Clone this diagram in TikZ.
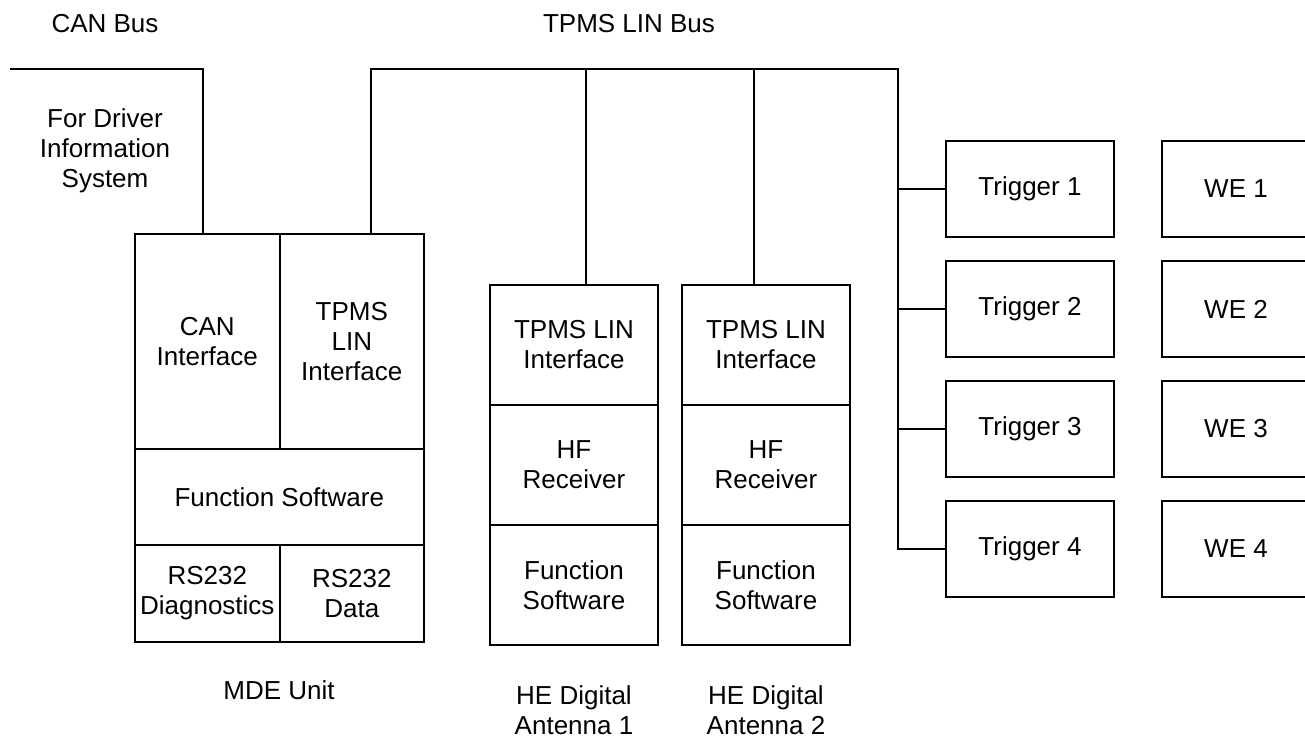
\documentclass[tikz,border=0pt]{standalone}
\usepackage{fontspec}
\setmainfont{Liberation Sans}
\usetikzlibrary{positioning}
\begin{document}
\begin{tikzpicture}[
		x=1pt, y=-1pt,
		line width=1.6pt,
		font=\fontsize{26}{30}\selectfont,
		cell/.style={draw, inner sep=0pt, align=center, anchor=north west},
		unit/.style={draw, inner sep=0pt, align=center, minimum width=168, minimum height=96},
		antcell/.style={draw, inner sep=0pt, align=center, minimum width=168, minimum height=120},
		caption/.style={align=center, inner sep=0pt}
	]
		\useasboundingbox (0,0) rectangle (1305,738);
		% MDE unit
		\node[cell, minimum width=145, minimum height=215] (can) at (134,233) {CAN\\Interface};
		\node[cell, minimum width=144, minimum height=215] (lin) at (279,233) {TPMS\\LIN\\Interface};
		\node[cell, minimum width=289, minimum height=96] (func) at (134,448) {Function Software};
		\node[cell, minimum width=145, minimum height=97] (diag) at (134,544) {RS232\\Diagnostics};
		\node[cell, minimum width=144, minimum height=97] (data) at (279,544) {RS232\\Data};
		\node[caption] (mde) at (279,690) {MDE Unit};
		% antennas
		\foreach \i/\x in {1/574, 2/766} {
			\node[antcell] (ant\i a) at (\x,345) {TPMS LIN\\Interface};
			\node[antcell] (ant\i b) at (\x,465) {HF\\Receiver};
			\node[antcell] (ant\i c) at (\x,585) {Function\\Software};
			\node[caption] (ant\i) at (\x,710) {HE Digital\\Antenna \i};
		}
		% triggers and WE
		\foreach \i in {1,2,3,4} {
			\node[unit] (trig\i) at (1030, {69+120*\i}) {Trigger \i};
			\node[unit, minimum width=148] (we\i) at (1236, {69+120*\i}) {WE \i};
		}
		% bus labels
		\node[caption] (canbus) at (105,24) {CAN Bus};
		\node[caption] (linbus) at (629,24) {TPMS LIN Bus};
		\node[caption] (dis) at (105,151) {For Driver\\Information\\System};
		% buses
		\coordinate (canL) at (10,69);
		\coordinate (busR) at (898,69);
		\draw (canL) -| ([xshift=-4.5]can.north);
		\draw ([xshift=19]lin.north) |- (busR) |- (trig4.west);
		\draw ([xshift=12]ant1a.north) -- ([xshift=12]ant1a.north |- busR);
		\draw ([xshift=-12]ant2a.north) -- ([xshift=-12]ant2a.north |- busR);
		\foreach \i in {1,2,3} {
			\draw (trig\i.west) -- (trig\i.west -| busR);
		}
	\end{tikzpicture}
\end{document}
